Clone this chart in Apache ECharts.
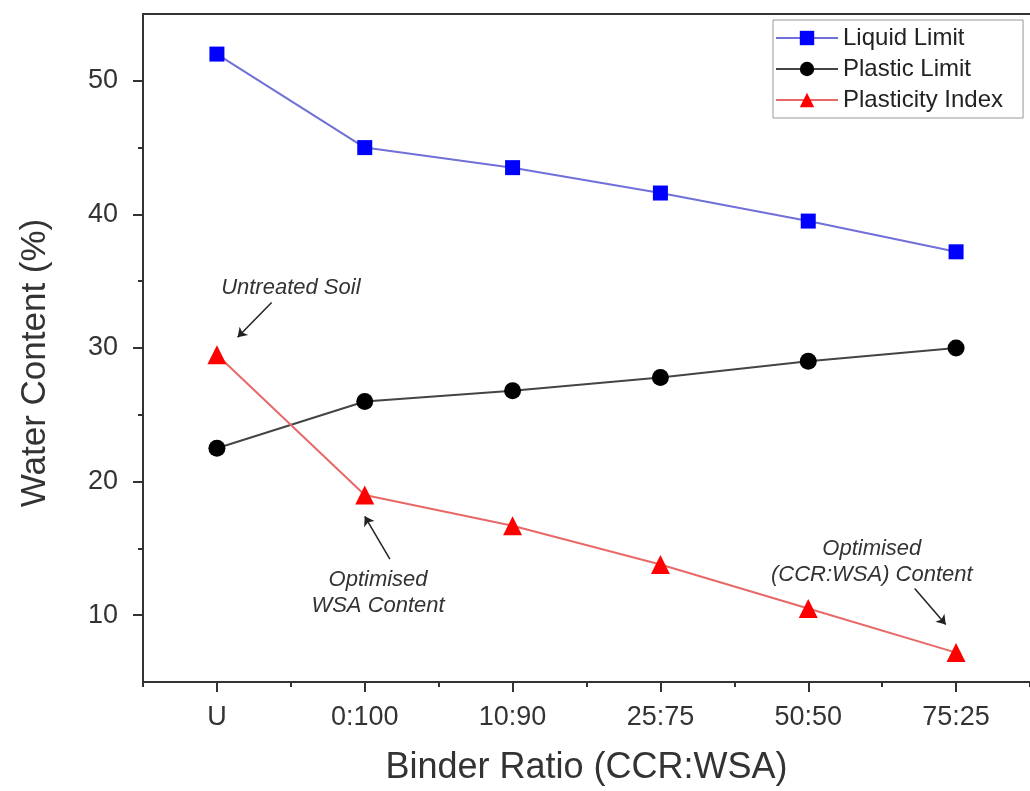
<!DOCTYPE html>
<html>
<head>
<meta charset="utf-8">
<script src="https://cdn.jsdelivr.net/npm/echarts@6/dist/echarts.min.js"></script>
<style>
  html, body { margin: 0; padding: 0; background: #fff; }
  #chart { width: 1030px; height: 791px; }
</style>
</head>
<body>
<div id="chart"></div>
<script>
// data
const categories = ['U', '0:100', '10:90', '25:75', '50:50', '75:25'];
const liquidLimit = [52.0, 45.0, 43.5, 41.6, 39.5, 37.2];
const plasticLimit = [22.5, 26.0, 26.8, 27.8, 29.0, 30.0];
const plasticityIndex = [29.5, 19.0, 16.7, 13.8, 10.5, 7.2];

const yMajorTicks = [10, 20, 30, 40, 50];
const yMinorTicks = [15, 25, 35, 45];

// annotation arrows: [tail, head] in [category index, water content]
const arrows = [
    [[0.37, 33.4], [0.14, 30.8]],
    [[1.17, 14.2], [1.0, 17.4]],
    [[4.72, 12.0], [4.93, 9.3]]
];
const notes = [
    { text: 'Untreated Soil', at: [0.5, 34.5] },
    { text: 'Optimised\nWSA Content', at: [1.09, 11.7] },
    { text: 'Optimised\n(CCR:WSA) Content', at: [4.43, 14.0] }
];

const font = 'Liberation Sans, Arial, sans-serif';
const axisColor = '#333';

const chart = echarts.init(document.getElementById('chart'));

const option = {
    backgroundColor: '#fff',
    animation: false,
    textStyle: { fontFamily: font },
    grid: { left: 143, top: 14, width: 894, height: 672 },
    legend: {
        data: ['Liquid Limit', 'Plastic Limit', 'Plasticity Index'],
        orient: 'vertical',
        left: 773,
        top: 20,
        itemWidth: 62,
        itemHeight: 18,
        itemGap: 7,
        padding: [6, 20, 6, 2],
        borderColor: '#999',
        borderWidth: 1,
        textStyle: { fontSize: 24, color: '#222', fontFamily: font }
    },
    xAxis: [
        {
            type: 'category',
            data: categories,
            boundaryGap: true,
            position: 'bottom',
            name: 'Binder Ratio (CCR:WSA)',
            nameLocation: 'middle',
            nameGap: 68,
            nameTextStyle: { fontSize: 36, color: '#333', fontFamily: font },
            axisLine: { onZero: false, lineStyle: { color: axisColor, width: 2 } },
            axisTick: { show: true, alignWithLabel: true, length: 10, lineStyle: { color: axisColor, width: 2 } },
            axisLabel: { fontSize: 27, color: '#333', margin: 22 },
            splitLine: { show: false }
        },
        {
            type: 'category',
            data: categories,
            boundaryGap: true,
            position: 'bottom',
            axisLine: { show: false, onZero: false },
            axisTick: { show: true, interval: 0, length: 5, lineStyle: { color: axisColor, width: 2 } },
            axisLabel: { show: false },
            splitLine: { show: false }
        },
        {
            type: 'category',
            data: categories,
            position: 'top',
            axisLine: { onZero: false, lineStyle: { color: axisColor, width: 2 } },
            axisTick: { show: false },
            axisLabel: { show: false }
        },
        {
            type: 'value',
            min: -0.5,
            max: 5.5,
            position: 'bottom',
            axisLine: { onZero: false },
            show: false
        }
    ],
    yAxis: [
        {
            type: 'value',
            min: 5,
            max: 55,
            position: 'left',
            name: 'Water Content (%)',
            nameLocation: 'middle',
            nameGap: 90,
            nameTextStyle: { fontSize: 35, color: '#333', fontFamily: font, padding: [0, 30, 0, 0] },
            axisLine: { show: true, onZero: false, lineStyle: { color: axisColor, width: 2 } },
            axisTick: { show: true, length: 10, customValues: yMajorTicks, lineStyle: { color: axisColor, width: 2 } },
            axisLabel: { fontSize: 27, color: '#333', margin: 25, customValues: yMajorTicks },
            splitLine: { show: false }
        },
        {
            type: 'value',
            min: 5,
            max: 55,
            position: 'left',
            axisLine: { show: false, onZero: false },
            axisTick: { show: true, length: 5, customValues: yMinorTicks, lineStyle: { color: axisColor, width: 2 } },
            axisLabel: { show: false, customValues: yMinorTicks },
            splitLine: { show: false }
        }
    ],
    series: [
        {
            name: 'Liquid Limit',
            type: 'line',
            data: liquidLimit,
            symbol: 'rect',
            symbolSize: 15,
            itemStyle: { color: '#0000ff' },
            lineStyle: { color: '#7070d8', width: 2 }
        },
        {
            name: 'Plastic Limit',
            type: 'line',
            data: plasticLimit,
            symbol: 'circle',
            symbolSize: 17,
            itemStyle: { color: '#000' },
            lineStyle: { color: '#444', width: 2 }
        },
        {
            name: 'Plasticity Index',
            type: 'line',
            data: plasticityIndex,
            symbol: 'triangle',
            symbolSize: 19,
            itemStyle: { color: '#ff0000' },
            lineStyle: { color: '#e86868', width: 2 }
        },
        {
            // annotations only
            name: 'notes',
            type: 'line',
            xAxisIndex: 3,
            yAxisIndex: 0,
            data: [],
            silent: true,
            markLine: {
                silent: true,
                symbol: ['none', 'arrow'],
                symbolSize: 9,
                label: { show: false },
                lineStyle: { color: '#222', width: 1.5, type: 'solid' },
                data: arrows.map(a => [{ coord: a[0] }, { coord: a[1] }])
            },
            markPoint: {
                silent: true,
                symbol: 'circle',
                symbolSize: 0,
                data: notes.map(n => ({
                    coord: n.at,
                    label: {
                        show: true,
                        position: 'inside',
                        formatter: n.text,
                        fontSize: 22,
                        fontStyle: 'italic',
                        color: '#333',
                        lineHeight: 26,
                        align: 'center'
                    }
                }))
            }
        }
    ]
};

chart.setOption(option);
</script>
</body>
</html>
